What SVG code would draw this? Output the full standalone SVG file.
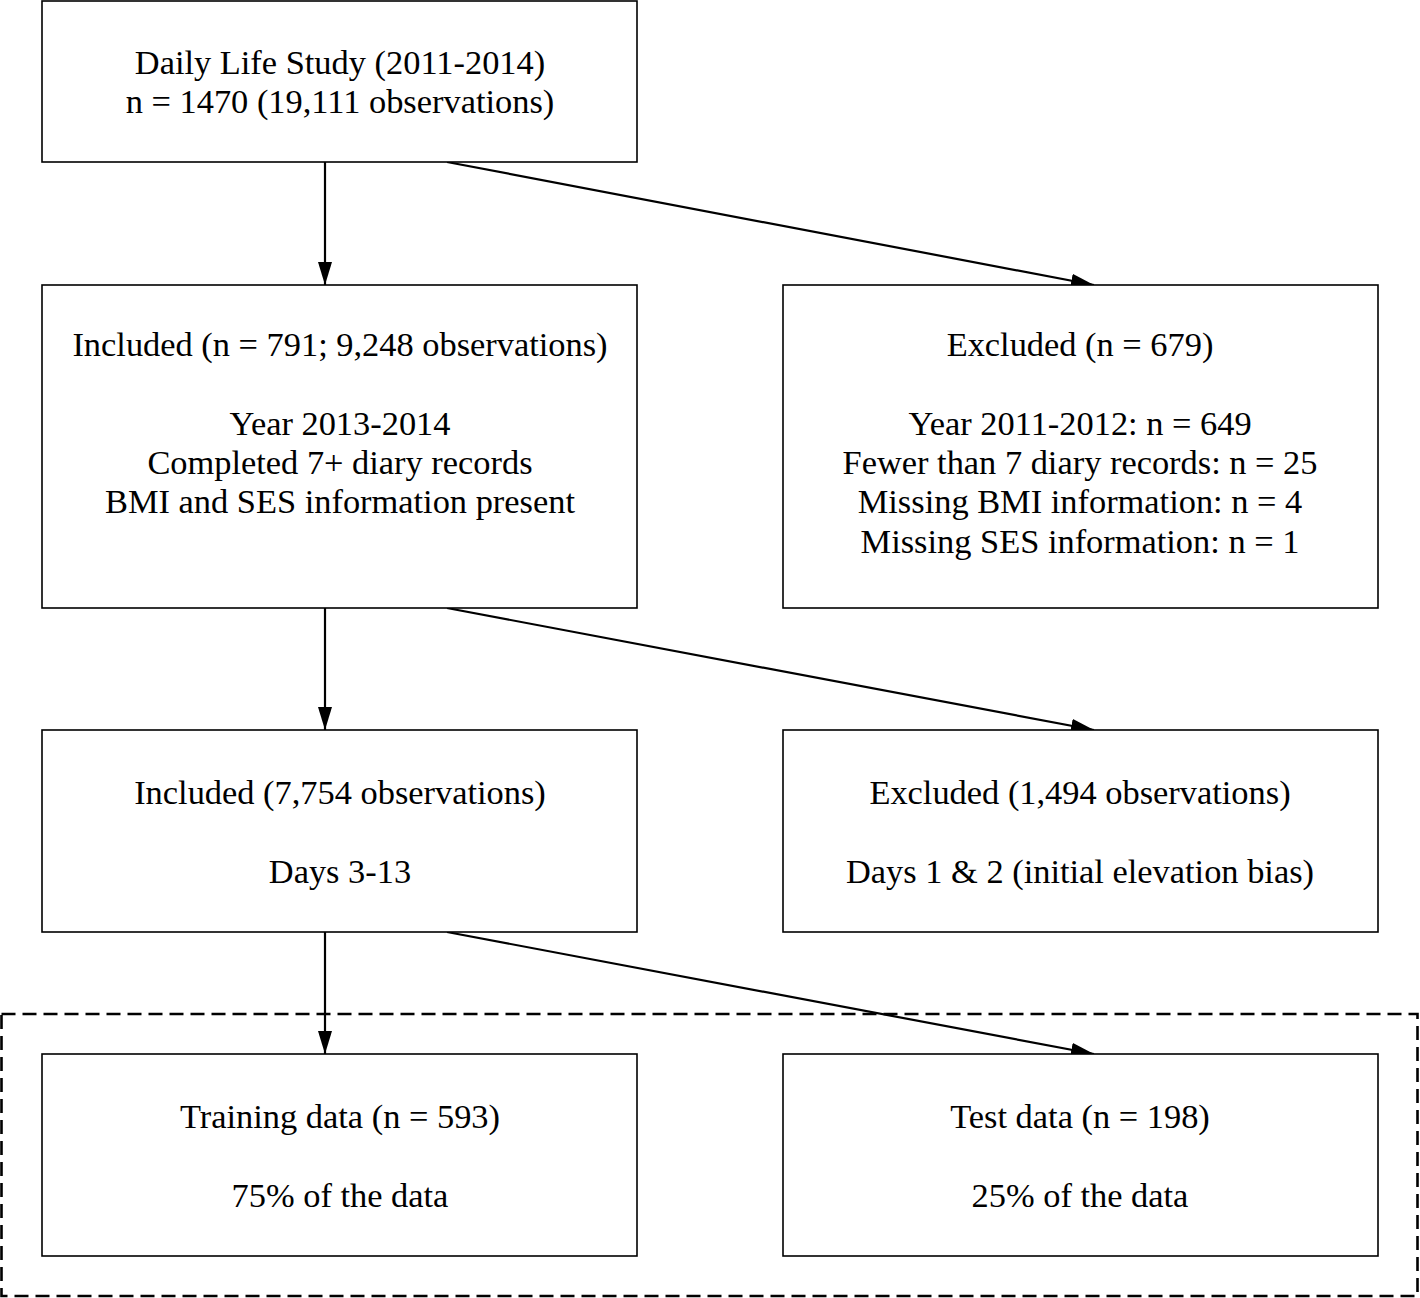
<svg xmlns="http://www.w3.org/2000/svg" width="1420" height="1298" viewBox="0 0 1420 1298">
<defs>
<style>
.box{fill:#fff;stroke:#000;stroke-width:1.6}
.t{font-family:"Liberation Serif","Times New Roman",serif;font-size:34.4px;fill:#000;text-anchor:middle}
.e{stroke:#000;stroke-width:2.2;fill:none;marker-end:url(#ah)}
.grp{fill:none;stroke:#000;stroke-width:2.6;stroke-dasharray:14 7}
</style>
<marker id="ah" markerWidth="23" markerHeight="14" refX="23" refY="7" orient="auto" markerUnits="userSpaceOnUse">
<path d="M0,0 L23,7 L0,14 Z" fill="#000"/>
</marker>
</defs>
<rect width="1420" height="1298" fill="#fff"/>
<rect id="split-group" class="grp" x="1.5" y="1014" width="1416" height="282"/>
<g id="connectors">
<line class="e" x1="325" y1="162" x2="325" y2="285"/>
<line class="e" x1="447" y1="162" x2="1094" y2="285"/>
<line class="e" x1="325" y1="608" x2="325" y2="730"/>
<line class="e" x1="447" y1="608" x2="1094" y2="730"/>
<line class="e" x1="325" y1="932" x2="325" y2="1054"/>
<line class="e" x1="447" y1="932" x2="1094" y2="1054"/>
</g>
<g id="n-study">
<rect class="box" x="42" y="1" width="595" height="161"/>
<text class="t" x="340" y="74">Daily Life Study (2011-2014)</text>
<text class="t" x="340" y="113">n = 1470 (19,111 observations)</text>
</g>
<g id="n-included1">
<rect class="box" x="42" y="285" width="595" height="323"/>
<text class="t" x="340" y="356">Included (n = 791; 9,248 observations)</text>
<text class="t" x="340" y="435">Year 2013-2014</text>
<text class="t" x="340" y="474">Completed 7+ diary records</text>
<text class="t" x="340" y="513">BMI and SES information present</text>
</g>
<g id="n-excluded1">
<rect class="box" x="783" y="285" width="595" height="323"/>
<text class="t" x="1080" y="356">Excluded (n = 679)</text>
<text class="t" x="1080" y="435">Year 2011-2012: n = 649</text>
<text class="t" x="1080" y="474">Fewer than 7 diary records: n = 25</text>
<text class="t" x="1080" y="513">Missing BMI information: n = 4</text>
<text class="t" x="1080" y="553">Missing SES information: n = 1</text>
</g>
<g id="n-included2">
<rect class="box" x="42" y="730" width="595" height="202"/>
<text class="t" x="340" y="804">Included (7,754 observations)</text>
<text class="t" x="340" y="883">Days 3-13</text>
</g>
<g id="n-excluded2">
<rect class="box" x="783" y="730" width="595" height="202"/>
<text class="t" x="1080" y="804">Excluded (1,494 observations)</text>
<text class="t" x="1080" y="883">Days 1 &amp; 2 (initial elevation bias)</text>
</g>
<g id="n-training">
<rect class="box" x="42" y="1054" width="595" height="202"/>
<text class="t" x="340" y="1128">Training data (n = 593)</text>
<text class="t" x="340" y="1207">75% of the data</text>
</g>
<g id="n-test">
<rect class="box" x="783" y="1054" width="595" height="202"/>
<text class="t" x="1080" y="1128">Test data (n = 198)</text>
<text class="t" x="1080" y="1207">25% of the data</text>
</g>
</svg>
